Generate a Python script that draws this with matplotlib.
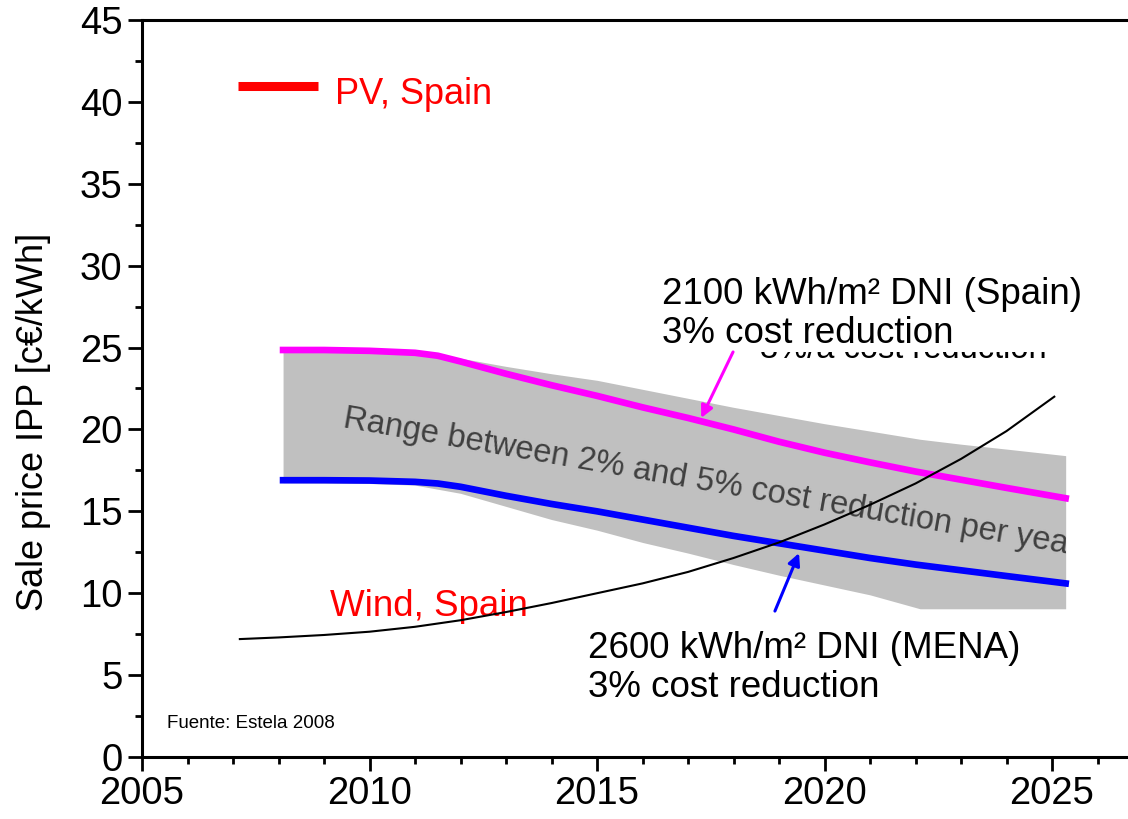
import matplotlib
matplotlib.use("Agg")
import matplotlib.pyplot as plt
from matplotlib.patches import Rectangle

plt.rcParams['font.family'] = ['Liberation Sans', 'DejaVu Sans']

# values
band_years = [2008.1, 2010, 2011, 2012, 2013, 2014, 2015, 2016, 2017, 2018,
              2019, 2020, 2021, 2022.1, 2023, 2024, 2025.3]
band_upper = [24.85, 24.8, 24.65, 24.35, 23.85, 23.4, 23.0, 22.45, 21.9, 21.35,
              20.85, 20.35, 19.9, 19.4, 19.1, 18.8, 18.4]
band_lower = [16.75, 16.7, 16.6, 16.1, 15.3, 14.5, 13.85, 13.1, 12.45, 11.75,
              11.1, 10.5, 9.9, 9.05, 9.05, 9.05, 9.05]

csp_years = [2008.1, 2009, 2010, 2011, 2011.5, 2012, 2013, 2014, 2015, 2016, 2017,
             2018, 2019, 2020, 2021, 2022, 2023, 2024, 2025.3]
spain_csp = [24.85, 24.85, 24.8, 24.68, 24.5, 24.15, 23.4, 22.7, 22.05, 21.35, 20.7,
             20.0, 19.25, 18.58, 17.99, 17.43, 16.93, 16.43, 15.8]
mena_csp = [16.9, 16.9, 16.88, 16.8, 16.7, 16.5, 15.95, 15.45, 15.0, 14.5, 14.0,
            13.5, 13.05, 12.6, 12.15, 11.75, 11.4, 11.05, 10.6]

wind_years = [2007.15, 2008, 2009, 2010, 2011, 2012, 2013, 2014, 2015, 2016,
              2017, 2018, 2019, 2020, 2021, 2022, 2023, 2024, 2025.05]
wind_spain = [7.2, 7.3, 7.45, 7.65, 7.95, 8.35, 8.85, 9.4, 10.0, 10.6,
              11.3, 12.15, 13.1, 14.2, 15.4, 16.7, 18.2, 19.9, 22.0]

x_ticks = [2005, 2010, 2015, 2020, 2025]
y_ticks = [0, 5, 10, 15, 20, 25, 30, 35, 40, 45]

fig = plt.figure(figsize=(11.28, 8.19), dpi=100)
ax = fig.add_axes([0.1259, 0.0757, 0.8741, 0.8999])

ax.fill_between(band_years, band_lower, band_upper, color='#c0c0c0',
                linewidth=0, zorder=1)
ax.plot(csp_years, spain_csp, color='#ff00ff', lw=4.8, zorder=3)
ax.plot(csp_years, mena_csp, color='#0000ff', lw=4.8, zorder=3)
ax.plot(wind_years, wind_spain, color='black', lw=1.5, zorder=4)

# range text, cut at the right edge of the grey band
rng = ax.text(2009.4, 20.16, 'Range between 2% and 5% cost reduction per year',
              fontsize=23.5, color='#404040', rotation=-9.9, rotation_mode='anchor',
              ha='left', va='baseline', zorder=2)
rng.set_clip_on(True)
rng.set_clip_path(Rectangle((band_years[0], 0), band_years[-1] - band_years[0], 45,
                            transform=ax.transData))

# legend-like labels
ax.plot([2007.11, 2008.87], [40.96, 40.96], color='red', lw=6.5,
        solid_capstyle='butt')
ax.text(2009.24, 39.9, 'PV, Spain', color='red', fontsize=26, va='baseline')
ax.text(2009.13, 8.6, 'Wind, Spain', color='red', fontsize=26.5, va='baseline', zorder=3)

# half hidden older label
ax.text(2018.58, 24.36, '3%/a cost reduction', fontsize=23.5, va='baseline', zorder=5)
ax.text(2016.43, 25.27, '2100 kWh/m² DNI (Spain)\n3% cost reduction', fontsize=26.5,
        va='baseline', linespacing=1.15, zorder=6,
        bbox=dict(facecolor='white', edgecolor='none', pad=0.5))
ax.annotate('', xy=(2017.29, 20.7), xytext=(2017.99, 24.73),
            arrowprops=dict(arrowstyle='-|>', color='#ff00ff', lw=2.2,
                            mutation_scale=18, shrinkA=0, shrinkB=0), zorder=6)

ax.text(2014.8, 3.66, '2600 kWh/m² DNI (MENA)\n3% cost reduction', fontsize=26.5,
        va='baseline', linespacing=1.15, zorder=6)
ax.annotate('', xy=(2019.44, 12.45), xytext=(2018.91, 8.91),
            arrowprops=dict(arrowstyle='-|>', color='#0000ff', lw=2.2,
                            mutation_scale=18, shrinkA=0, shrinkB=0), zorder=6)

ax.text(2005.55, 2.07, 'Fuente: Estela 2008', fontsize=13.5, va='center')

ax.set_xlim(2005, 2026.67)
ax.set_ylim(0, 45)
ax.set_xticks(x_ticks)
ax.set_xticks(range(2005, 2027), minor=True)
ax.set_yticks(y_ticks)
ax.set_yticks([v + 2.5 for v in y_ticks[:-1]], minor=True)
ax.tick_params(which='major', direction='out', length=10, width=2, labelsize=27.5, pad=4)
ax.tick_params(which='minor', direction='out', length=5, width=2)
ax.spines['right'].set_visible(False)
for s in ['left', 'bottom', 'top']:
    ax.spines[s].set_linewidth(2.2)
ax.set_ylabel('Sale price IPP [c€/kWh]', fontsize=26)
ax.yaxis.set_label_coords(-0.092, 0.455)

fig.savefig('out.png', dpi=100)
